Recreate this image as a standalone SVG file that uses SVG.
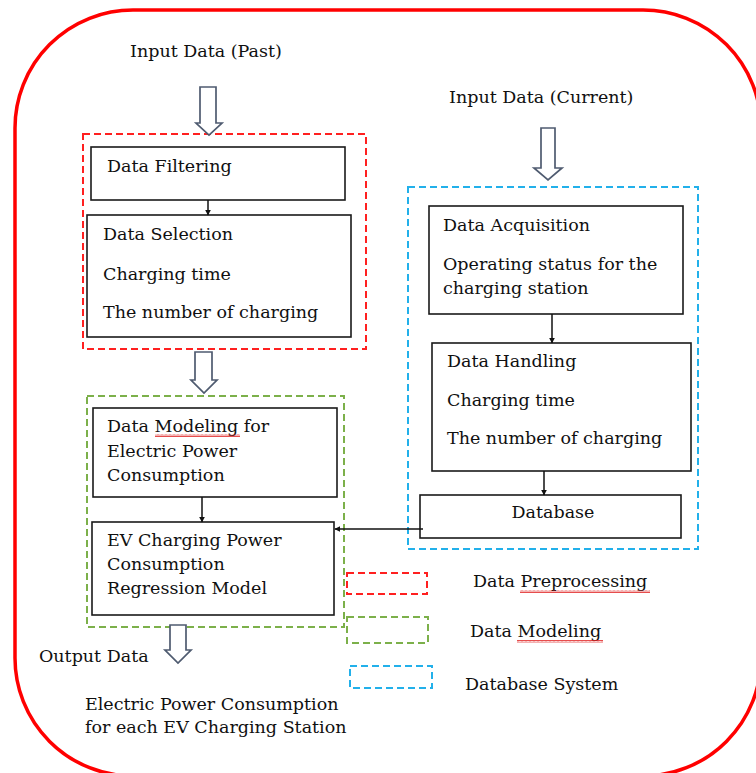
<svg xmlns="http://www.w3.org/2000/svg" width="756" height="773" viewBox="0 0 756 773">
  <defs>
    <style>
      text { font-family: "DejaVu Serif", "Liberation Serif", serif; font-size: 17.5px; fill: #101010; }
      .box { fill: #ffffff; stroke: #1a1a1a; stroke-width: 1.6; }
      .grp-red { fill: none; stroke: #ff2020; stroke-width: 2; stroke-dasharray: 7 4; }
      .grp-green { fill: none; stroke: #7cb04a; stroke-width: 2; stroke-dasharray: 7 4; }
      .grp-blue { fill: none; stroke: #22b0ea; stroke-width: 2; stroke-dasharray: 7 4; }
      .flow { fill: #ffffff; stroke: #4f5b70; stroke-width: 1.7; stroke-linejoin: miter; }
      .link { fill: none; stroke: #111111; stroke-width: 1.5; marker-end: url(#tip); }
      .squiggle { fill: url(#wave); }
    </style>
    <marker id="tip" viewBox="0 0 10 10" refX="9" refY="5" markerWidth="6" markerHeight="6" orient="auto" markerUnits="userSpaceOnUse">
      <path d="M0,0 L10,5 L0,10 Z" fill="#111111"/>
    </marker>
    <pattern id="wave" width="4" height="3" patternUnits="userSpaceOnUse">
      <path d="M0,2.5 L1,0.5 L2,2.5 L3,0.5 L4,2.5" fill="none" stroke="#e02020" stroke-width="0.8"/>
    </pattern>
  </defs>

  <!-- outer frame -->
  <rect x="15" y="10" width="746" height="766" rx="118" ry="118" fill="none" stroke="#ff0000" stroke-width="3.5"/>

  <!-- group outlines -->
  <rect class="grp-red" x="83" y="134" width="283" height="215"/>
  <rect class="grp-green" x="87" y="396" width="257" height="231"/>
  <rect class="grp-blue" x="408" y="187" width="290" height="362"/>

  <!-- input / output labels and block arrows -->
  <g id="input-past">
    <text x="130" y="57">Input Data (Past)</text>
    <path class="flow" d="M200,87 H216 V123 H222 L209,135 L196,123 H200 Z"/>
  </g>
  <g id="input-current">
    <text x="449" y="103">Input Data (Current)</text>
    <path class="flow" d="M541,128 H555 V168 H562 L548,180 L534,168 H541 Z"/>
  </g>
  <g id="flow-preprocess-model">
    <path class="flow" d="M195,352 H212 V380 H217 L204,393 L191,380 H195 Z"/>
  </g>
  <g id="output">
    <path class="flow" d="M170,625 H186 V650 H191 L178,663 L165,650 H170 Z"/>
    <text x="39" y="662">Output Data</text>
    <text x="85" y="710">Electric Power Consumption</text>
    <text x="85" y="733">for each EV Charging Station</text>
  </g>

  <!-- preprocessing -->
  <g id="data-filtering">
    <rect class="box" x="91" y="147" width="254" height="53"/>
    <text x="107" y="172">Data Filtering</text>
  </g>
  <g id="data-selection">
    <rect class="box" x="87" y="215" width="264" height="122"/>
    <text x="103" y="240">Data Selection</text>
    <text x="103" y="280">Charging time</text>
    <text x="103" y="318">The number of charging</text>
  </g>

  <!-- modeling -->
  <g id="data-modeling">
    <rect class="box" x="93" y="408" width="244" height="89"/>
    <text x="107" y="432">Data Modeling for</text>
    <text x="107" y="457">Electric Power</text>
    <text x="107" y="481">Consumption</text>
    <rect class="squiggle" x="155" y="434" width="85" height="3"/>
  </g>
  <g id="regression-model">
    <rect class="box" x="92" y="522" width="242" height="93"/>
    <text x="107" y="546">EV Charging Power</text>
    <text x="107" y="570">Consumption</text>
    <text x="107" y="594">Regression Model</text>
  </g>

  <!-- database system -->
  <g id="data-acquisition">
    <rect class="box" x="429" y="206" width="254" height="108"/>
    <text x="443" y="231">Data Acquisition</text>
    <text x="443" y="270">Operating status for the</text>
    <text x="443" y="294">charging station</text>
  </g>
  <g id="data-handling">
    <rect class="box" x="432" y="343" width="259" height="128"/>
    <text x="447" y="367">Data Handling</text>
    <text x="447" y="406">Charging time</text>
    <text x="447" y="444">The number of charging</text>
  </g>
  <g id="database">
    <rect class="box" x="420" y="495" width="261" height="43"/>
    <text x="553" y="518" text-anchor="middle">Database</text>
  </g>

  <!-- connectors -->
  <g id="connectors">
    <line class="link" x1="208" y1="200" x2="208" y2="215"/>
    <line class="link" x1="202" y1="497" x2="202" y2="522"/>
    <line class="link" x1="552" y1="314" x2="552" y2="343"/>
    <line class="link" x1="544" y1="471" x2="544" y2="495"/>
    <line class="link" x1="423" y1="529" x2="335" y2="529"/>
  </g>

  <!-- legend -->
  <g id="legend">
    <rect class="grp-red" x="347" y="573" width="80" height="21"/>
    <text x="473" y="587">Data Preprocessing</text>
    <rect class="squiggle" x="520" y="590" width="130" height="3"/>
    <rect class="grp-green" x="347" y="617" width="81" height="26"/>
    <text x="470" y="637">Data Modeling</text>
    <rect class="squiggle" x="517" y="640" width="86" height="3"/>
    <rect class="grp-blue" x="350" y="666" width="82" height="22"/>
    <text x="465" y="690">Database System</text>
  </g>
</svg>
